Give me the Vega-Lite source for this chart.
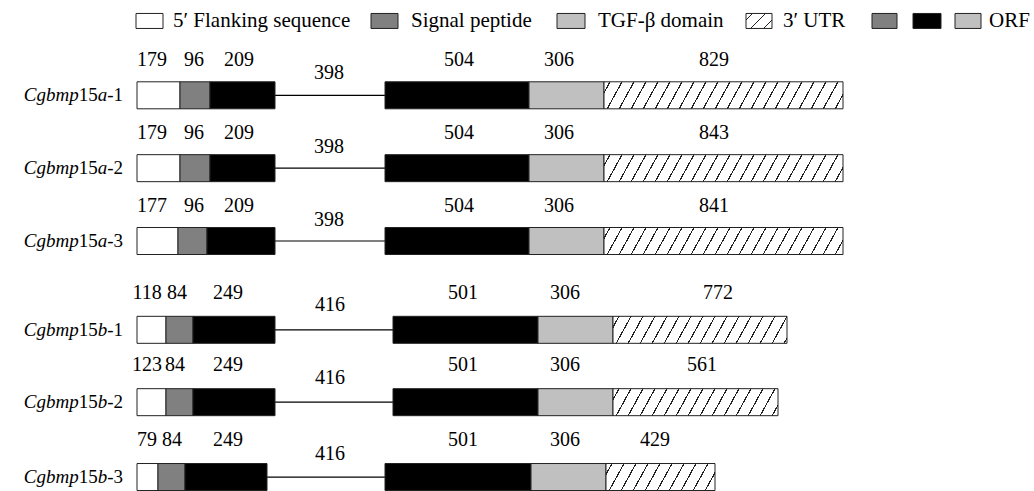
{
  "$schema": "https://vega.github.io/schema/vega-lite/v6.json",
  "width": 1034,
  "height": 491,
  "padding": 0,
  "autosize": {"type": "fit", "contains": "padding"},
  "config": {"view": {"stroke": null}, "font": "Liberation Serif"},
  "params": [
    {"name": "hatch", "value": {"gradient": "linear", "x1": 0, "y1": 0, "x2": 1, "y2": 0, "stops": [
      {"offset": 0, "color": "#ffffff"},
      {"offset": 0.0202, "color": "#ffffff"}, {"offset": 0.0202, "color": "#222222"}, {"offset": 0.0252, "color": "#222222"}, {"offset": 0.0252, "color": "#ffffff"},
      {"offset": 0.0657, "color": "#ffffff"}, {"offset": 0.0657, "color": "#222222"}, {"offset": 0.0707, "color": "#222222"}, {"offset": 0.0707, "color": "#ffffff"},
      {"offset": 0.1111, "color": "#ffffff"}, {"offset": 0.1111, "color": "#222222"}, {"offset": 0.1161, "color": "#222222"}, {"offset": 0.1161, "color": "#ffffff"},
      {"offset": 0.1566, "color": "#ffffff"}, {"offset": 0.1566, "color": "#222222"}, {"offset": 0.1616, "color": "#222222"}, {"offset": 0.1616, "color": "#ffffff"},
      {"offset": 0.2020, "color": "#ffffff"}, {"offset": 0.2020, "color": "#222222"}, {"offset": 0.2070, "color": "#222222"}, {"offset": 0.2070, "color": "#ffffff"},
      {"offset": 0.2475, "color": "#ffffff"}, {"offset": 0.2475, "color": "#222222"}, {"offset": 0.2525, "color": "#222222"}, {"offset": 0.2525, "color": "#ffffff"},
      {"offset": 0.2930, "color": "#ffffff"}, {"offset": 0.2930, "color": "#222222"}, {"offset": 0.2980, "color": "#222222"}, {"offset": 0.2980, "color": "#ffffff"},
      {"offset": 0.3384, "color": "#ffffff"}, {"offset": 0.3384, "color": "#222222"}, {"offset": 0.3434, "color": "#222222"}, {"offset": 0.3434, "color": "#ffffff"},
      {"offset": 0.3839, "color": "#ffffff"}, {"offset": 0.3839, "color": "#222222"}, {"offset": 0.3889, "color": "#222222"}, {"offset": 0.3889, "color": "#ffffff"},
      {"offset": 0.4293, "color": "#ffffff"}, {"offset": 0.4293, "color": "#222222"}, {"offset": 0.4343, "color": "#222222"}, {"offset": 0.4343, "color": "#ffffff"},
      {"offset": 0.4748, "color": "#ffffff"}, {"offset": 0.4748, "color": "#222222"}, {"offset": 0.4798, "color": "#222222"}, {"offset": 0.4798, "color": "#ffffff"},
      {"offset": 0.5202, "color": "#ffffff"}, {"offset": 0.5202, "color": "#222222"}, {"offset": 0.5252, "color": "#222222"}, {"offset": 0.5252, "color": "#ffffff"},
      {"offset": 0.5657, "color": "#ffffff"}, {"offset": 0.5657, "color": "#222222"}, {"offset": 0.5707, "color": "#222222"}, {"offset": 0.5707, "color": "#ffffff"},
      {"offset": 0.6111, "color": "#ffffff"}, {"offset": 0.6111, "color": "#222222"}, {"offset": 0.6161, "color": "#222222"}, {"offset": 0.6161, "color": "#ffffff"},
      {"offset": 0.6566, "color": "#ffffff"}, {"offset": 0.6566, "color": "#222222"}, {"offset": 0.6616, "color": "#222222"}, {"offset": 0.6616, "color": "#ffffff"},
      {"offset": 0.7020, "color": "#ffffff"}, {"offset": 0.7020, "color": "#222222"}, {"offset": 0.7070, "color": "#222222"}, {"offset": 0.7070, "color": "#ffffff"},
      {"offset": 0.7475, "color": "#ffffff"}, {"offset": 0.7475, "color": "#222222"}, {"offset": 0.7525, "color": "#222222"}, {"offset": 0.7525, "color": "#ffffff"},
      {"offset": 0.7930, "color": "#ffffff"}, {"offset": 0.7930, "color": "#222222"}, {"offset": 0.7980, "color": "#222222"}, {"offset": 0.7980, "color": "#ffffff"},
      {"offset": 0.8384, "color": "#ffffff"}, {"offset": 0.8384, "color": "#222222"}, {"offset": 0.8434, "color": "#222222"}, {"offset": 0.8434, "color": "#ffffff"},
      {"offset": 0.8839, "color": "#ffffff"}, {"offset": 0.8839, "color": "#222222"}, {"offset": 0.8889, "color": "#222222"}, {"offset": 0.8889, "color": "#ffffff"},
      {"offset": 0.9293, "color": "#ffffff"}, {"offset": 0.9293, "color": "#222222"}, {"offset": 0.9343, "color": "#222222"}, {"offset": 0.9343, "color": "#ffffff"},
      {"offset": 0.9748, "color": "#ffffff"}, {"offset": 0.9748, "color": "#222222"}, {"offset": 0.9798, "color": "#222222"}, {"offset": 0.9798, "color": "#ffffff"},
      {"offset": 1, "color": "#ffffff"}
    ]}}
  ],
  "datasets": {
    "seg": [
      {"row": "a1", "type": "flank", "start": 137, "end": 180, "yc": 95.5},
      {"row": "a1", "type": "signal", "start": 180, "end": 210, "yc": 95.5},
      {"row": "a1", "type": "orf", "start": 210, "end": 275, "yc": 95.5},
      {"row": "a1", "type": "orf", "start": 385, "end": 529, "yc": 95.5},
      {"row": "a1", "type": "tgf", "start": 529, "end": 604, "yc": 95.5},
      {"row": "a1", "type": "utr", "start": 604, "end": 843, "yc": 95.5},
      {"row": "a2", "type": "flank", "start": 137, "end": 180, "yc": 168.5},
      {"row": "a2", "type": "signal", "start": 180, "end": 210, "yc": 168.5},
      {"row": "a2", "type": "orf", "start": 210, "end": 275, "yc": 168.5},
      {"row": "a2", "type": "orf", "start": 385, "end": 529, "yc": 168.5},
      {"row": "a2", "type": "tgf", "start": 529, "end": 604, "yc": 168.5},
      {"row": "a2", "type": "utr", "start": 604, "end": 843, "yc": 168.5},
      {"row": "a3", "type": "flank", "start": 137, "end": 178, "yc": 241.5},
      {"row": "a3", "type": "signal", "start": 178, "end": 207, "yc": 241.5},
      {"row": "a3", "type": "orf", "start": 207, "end": 275, "yc": 241.5},
      {"row": "a3", "type": "orf", "start": 385, "end": 529, "yc": 241.5},
      {"row": "a3", "type": "tgf", "start": 529, "end": 604, "yc": 241.5},
      {"row": "a3", "type": "utr", "start": 604, "end": 843, "yc": 241.5},
      {"row": "b1", "type": "flank", "start": 137, "end": 166, "yc": 330.5},
      {"row": "b1", "type": "signal", "start": 166, "end": 193, "yc": 330.5},
      {"row": "b1", "type": "orf", "start": 193, "end": 275, "yc": 330.5},
      {"row": "b1", "type": "orf", "start": 393, "end": 538, "yc": 330.5},
      {"row": "b1", "type": "tgf", "start": 538, "end": 613, "yc": 330.5},
      {"row": "b1", "type": "utr", "start": 613, "end": 787, "yc": 330.5},
      {"row": "b2", "type": "flank", "start": 137, "end": 166, "yc": 403},
      {"row": "b2", "type": "signal", "start": 166, "end": 193, "yc": 403},
      {"row": "b2", "type": "orf", "start": 193, "end": 275, "yc": 403},
      {"row": "b2", "type": "orf", "start": 393, "end": 538, "yc": 403},
      {"row": "b2", "type": "tgf", "start": 538, "end": 613, "yc": 403},
      {"row": "b2", "type": "utr", "start": 613, "end": 778, "yc": 403},
      {"row": "b3", "type": "flank", "start": 137, "end": 158, "yc": 478},
      {"row": "b3", "type": "signal", "start": 158, "end": 185, "yc": 478},
      {"row": "b3", "type": "orf", "start": 185, "end": 267, "yc": 478},
      {"row": "b3", "type": "orf", "start": 385, "end": 531, "yc": 478},
      {"row": "b3", "type": "tgf", "start": 531, "end": 606, "yc": 478},
      {"row": "b3", "type": "utr", "start": 606, "end": 715, "yc": 478}
    ],
    "intron": [
      {"row": "a1", "start": 275, "end": 385, "yc": 95.5},
      {"row": "a2", "start": 275, "end": 385, "yc": 168.5},
      {"row": "a3", "start": 275, "end": 385, "yc": 241.5},
      {"row": "b1", "start": 275, "end": 393, "yc": 330.5},
      {"row": "b2", "start": 275, "end": 393, "yc": 403},
      {"row": "b3", "start": 267, "end": 385, "yc": 478}
    ],
    "nums": [
      {"t": "179", "x": 152, "y": 60}, {"t": "96", "x": 194, "y": 60}, {"t": "209", "x": 239, "y": 60}, {"t": "398", "x": 329, "y": 73}, {"t": "504", "x": 459, "y": 60}, {"t": "306", "x": 559, "y": 60}, {"t": "829", "x": 714, "y": 60},
      {"t": "179", "x": 152, "y": 133}, {"t": "96", "x": 194, "y": 133}, {"t": "209", "x": 239, "y": 133}, {"t": "398", "x": 329, "y": 147}, {"t": "504", "x": 459, "y": 133}, {"t": "306", "x": 559, "y": 133}, {"t": "843", "x": 714, "y": 133},
      {"t": "177", "x": 152, "y": 206}, {"t": "96", "x": 194, "y": 206}, {"t": "209", "x": 239, "y": 206}, {"t": "398", "x": 329, "y": 220}, {"t": "504", "x": 459, "y": 206}, {"t": "306", "x": 559, "y": 206}, {"t": "841", "x": 714, "y": 206},
      {"t": "118", "x": 147, "y": 294}, {"t": "84", "x": 177, "y": 294}, {"t": "249", "x": 228, "y": 294}, {"t": "416", "x": 330, "y": 306}, {"t": "501", "x": 463, "y": 294}, {"t": "306", "x": 565, "y": 294}, {"t": "772", "x": 718, "y": 294},
      {"t": "123", "x": 147, "y": 366}, {"t": "84", "x": 175, "y": 366}, {"t": "249", "x": 228, "y": 366}, {"t": "416", "x": 330, "y": 379}, {"t": "501", "x": 463, "y": 366}, {"t": "306", "x": 565, "y": 366}, {"t": "561", "x": 702, "y": 366},
      {"t": "79", "x": 147, "y": 441}, {"t": "84", "x": 172, "y": 441}, {"t": "249", "x": 228, "y": 441}, {"t": "416", "x": 330, "y": 455}, {"t": "501", "x": 463, "y": 441}, {"t": "306", "x": 565, "y": 441}, {"t": "429", "x": 655, "y": 441}
    ],
    "lbl": [
      {"t": "Cgbmp", "it": true, "x": 78.7, "y": 95.5}, {"t": "15", "it": false, "x": 97.7, "y": 95.5}, {"t": "a", "it": true, "x": 107.2, "y": 95.5}, {"t": "-1", "it": false, "x": 123, "y": 95.5},
      {"t": "Cgbmp", "it": true, "x": 78.7, "y": 168.5}, {"t": "15", "it": false, "x": 97.7, "y": 168.5}, {"t": "a", "it": true, "x": 107.2, "y": 168.5}, {"t": "-2", "it": false, "x": 123, "y": 168.5},
      {"t": "Cgbmp", "it": true, "x": 78.7, "y": 241.5}, {"t": "15", "it": false, "x": 97.7, "y": 241.5}, {"t": "a", "it": true, "x": 107.2, "y": 241.5}, {"t": "-3", "it": false, "x": 123, "y": 241.5},
      {"t": "Cgbmp", "it": true, "x": 78.7, "y": 330.5}, {"t": "15", "it": false, "x": 97.7, "y": 330.5}, {"t": "b", "it": true, "x": 107.2, "y": 330.5}, {"t": "-1", "it": false, "x": 123, "y": 330.5},
      {"t": "Cgbmp", "it": true, "x": 78.7, "y": 403}, {"t": "15", "it": false, "x": 97.7, "y": 403}, {"t": "b", "it": true, "x": 107.2, "y": 403}, {"t": "-2", "it": false, "x": 123, "y": 403},
      {"t": "Cgbmp", "it": true, "x": 78.7, "y": 478}, {"t": "15", "it": false, "x": 97.7, "y": 478}, {"t": "b", "it": true, "x": 107.2, "y": 478}, {"t": "-3", "it": false, "x": 123, "y": 478}
    ],
    "leg": [
      {"type": "flank", "start": 136, "end": 163, "yc": 21},
      {"type": "signal", "start": 371, "end": 398, "yc": 21},
      {"type": "tgf", "start": 557, "end": 585, "yc": 21},
      {"type": "utr", "start": 746, "end": 772, "yc": 21},
      {"type": "signal", "start": 872, "end": 897, "yc": 21},
      {"type": "orf", "start": 913, "end": 941, "yc": 21},
      {"type": "tgf", "start": 955, "end": 981, "yc": 21}
    ],
    "legtxt": [
      {"t": "5′ Flanking sequence", "x": 173, "y": 21},
      {"t": "Signal peptide", "x": 411, "y": 21},
      {"t": "TGF-β domain", "x": 598, "y": 21},
      {"t": "3′ UTR", "x": 783, "y": 21},
      {"t": "ORF", "x": 989, "y": 21}
    ]
  },
  "layer": [
    {
      "data": {"name": "intron"},
      "mark": {"type": "rule", "color": "#000000", "strokeWidth": 1.2},
      "encoding": {
        "x": {"field": "start", "type": "quantitative", "scale": {"domain": [0, 1034]}, "axis": null},
        "x2": {"field": "end"},
        "y": {"field": "yc", "type": "quantitative", "scale": {"domain": [491, 0]}, "axis": null}
      }
    },
    {
      "data": {"name": "seg"},
      "transform": [{"filter": "datum.type !== 'utr'"}],
      "mark": {"type": "rect", "height": 27, "stroke": "#222222", "strokeWidth": 1},
      "encoding": {
        "x": {"field": "start", "type": "quantitative", "scale": {"domain": [0, 1034]}, "axis": null},
        "x2": {"field": "end"},
        "y": {"field": "yc", "type": "quantitative", "scale": {"domain": [491, 0]}, "axis": null},
        "fill": {"field": "type", "type": "nominal", "legend": null, "scale": {"domain": ["flank", "signal", "orf", "tgf"], "range": ["#ffffff", "#808080", "#000000", "#c0c0c0"]}}
      }
    },
    {
      "data": {"name": "seg"},
      "transform": [{"filter": "datum.type === 'utr' && indexof(['a1','a2','a3'], datum.row) >= 0"}],
      "mark": {"type": "rect", "height": 27, "stroke": "#222222", "strokeWidth": 1, "fill": {"expr": "merge(hatch, {x2: 1.1004, y2: 0.0683})"}},
      "encoding": {
        "x": {"field": "start", "type": "quantitative", "scale": {"domain": [0, 1034]}, "axis": null},
        "x2": {"field": "end"},
        "y": {"field": "yc", "type": "quantitative", "scale": {"domain": [491, 0]}, "axis": null}
      }
    },
    {
      "data": {"name": "seg"},
      "transform": [{"filter": "datum.type === 'utr' && datum.row === 'b1'"}],
      "mark": {"type": "rect", "height": 27, "stroke": "#222222", "strokeWidth": 1, "fill": {"expr": "merge(hatch, {x2: 1.5063, y2: 0.1285})"}},
      "encoding": {
        "x": {"field": "start", "type": "quantitative", "scale": {"domain": [0, 1034]}, "axis": null},
        "x2": {"field": "end"},
        "y": {"field": "yc", "type": "quantitative", "scale": {"domain": [491, 0]}, "axis": null}
      }
    },
    {
      "data": {"name": "seg"},
      "transform": [{"filter": "datum.type === 'utr' && datum.row === 'b2'"}],
      "mark": {"type": "rect", "height": 27, "stroke": "#222222", "strokeWidth": 1, "fill": {"expr": "merge(hatch, {x2: 1.5871, y2: 0.1428})"}},
      "encoding": {
        "x": {"field": "start", "type": "quantitative", "scale": {"domain": [0, 1034]}, "axis": null},
        "x2": {"field": "end"},
        "y": {"field": "yc", "type": "quantitative", "scale": {"domain": [491, 0]}, "axis": null}
      }
    },
    {
      "data": {"name": "seg"},
      "transform": [{"filter": "datum.type === 'utr' && datum.row === 'b3'"}],
      "mark": {"type": "rect", "height": 27, "stroke": "#222222", "strokeWidth": 1, "fill": {"expr": "merge(hatch, {x2: 2.3778, y2: 0.3239})"}},
      "encoding": {
        "x": {"field": "start", "type": "quantitative", "scale": {"domain": [0, 1034]}, "axis": null},
        "x2": {"field": "end"},
        "y": {"field": "yc", "type": "quantitative", "scale": {"domain": [491, 0]}, "axis": null}
      }
    },
    {
      "data": {"name": "leg"},
      "transform": [{"filter": "datum.type !== 'utr'"}],
      "mark": {"type": "rect", "height": 15, "stroke": "#222222", "strokeWidth": 1},
      "encoding": {
        "x": {"field": "start", "type": "quantitative", "scale": {"domain": [0, 1034]}, "axis": null},
        "x2": {"field": "end"},
        "y": {"field": "yc", "type": "quantitative", "scale": {"domain": [491, 0]}, "axis": null},
        "fill": {"field": "type", "type": "nominal", "legend": null, "scale": {"domain": ["flank", "signal", "orf", "tgf"], "range": ["#ffffff", "#808080", "#000000", "#c0c0c0"]}}
      }
    },
    {
      "data": {"name": "leg"},
      "transform": [{"filter": "datum.type === 'utr'"}],
      "mark": {"type": "rect", "height": 15, "stroke": "#222222", "strokeWidth": 1, "fill": {"expr": "merge(hatch, {x2: 8.25, y2: 4.76})"}},
      "encoding": {
        "x": {"field": "start", "type": "quantitative", "scale": {"domain": [0, 1034]}, "axis": null},
        "x2": {"field": "end"},
        "y": {"field": "yc", "type": "quantitative", "scale": {"domain": [491, 0]}, "axis": null}
      }
    },
    {
      "data": {"name": "legtxt"},
      "mark": {"type": "text", "align": "left", "baseline": "middle", "fontSize": 21, "font": "Liberation Serif", "color": "#000000"},
      "encoding": {
        "x": {"field": "x", "type": "quantitative", "scale": {"domain": [0, 1034]}, "axis": null},
        "y": {"field": "y", "type": "quantitative", "scale": {"domain": [491, 0]}, "axis": null},
        "text": {"field": "t"}
      }
    },
    {
      "data": {"name": "nums"},
      "mark": {"type": "text", "align": "center", "baseline": "middle", "fontSize": 20, "font": "Liberation Serif", "color": "#000000"},
      "encoding": {
        "x": {"field": "x", "type": "quantitative", "scale": {"domain": [0, 1034]}, "axis": null},
        "y": {"field": "y", "type": "quantitative", "scale": {"domain": [491, 0]}, "axis": null},
        "text": {"field": "t"}
      }
    },
    {
      "data": {"name": "lbl"},
      "transform": [{"filter": "datum.it"}],
      "mark": {"type": "text", "align": "right", "baseline": "middle", "fontSize": 19, "font": "Liberation Serif", "fontStyle": "italic", "color": "#000000"},
      "encoding": {
        "x": {"field": "x", "type": "quantitative", "scale": {"domain": [0, 1034]}, "axis": null},
        "y": {"field": "y", "type": "quantitative", "scale": {"domain": [491, 0]}, "axis": null},
        "text": {"field": "t"}
      }
    },
    {
      "data": {"name": "lbl"},
      "transform": [{"filter": "!datum.it"}],
      "mark": {"type": "text", "align": "right", "baseline": "middle", "fontSize": 19, "font": "Liberation Serif", "color": "#000000"},
      "encoding": {
        "x": {"field": "x", "type": "quantitative", "scale": {"domain": [0, 1034]}, "axis": null},
        "y": {"field": "y", "type": "quantitative", "scale": {"domain": [491, 0]}, "axis": null},
        "text": {"field": "t"}
      }
    }
  ]
}
